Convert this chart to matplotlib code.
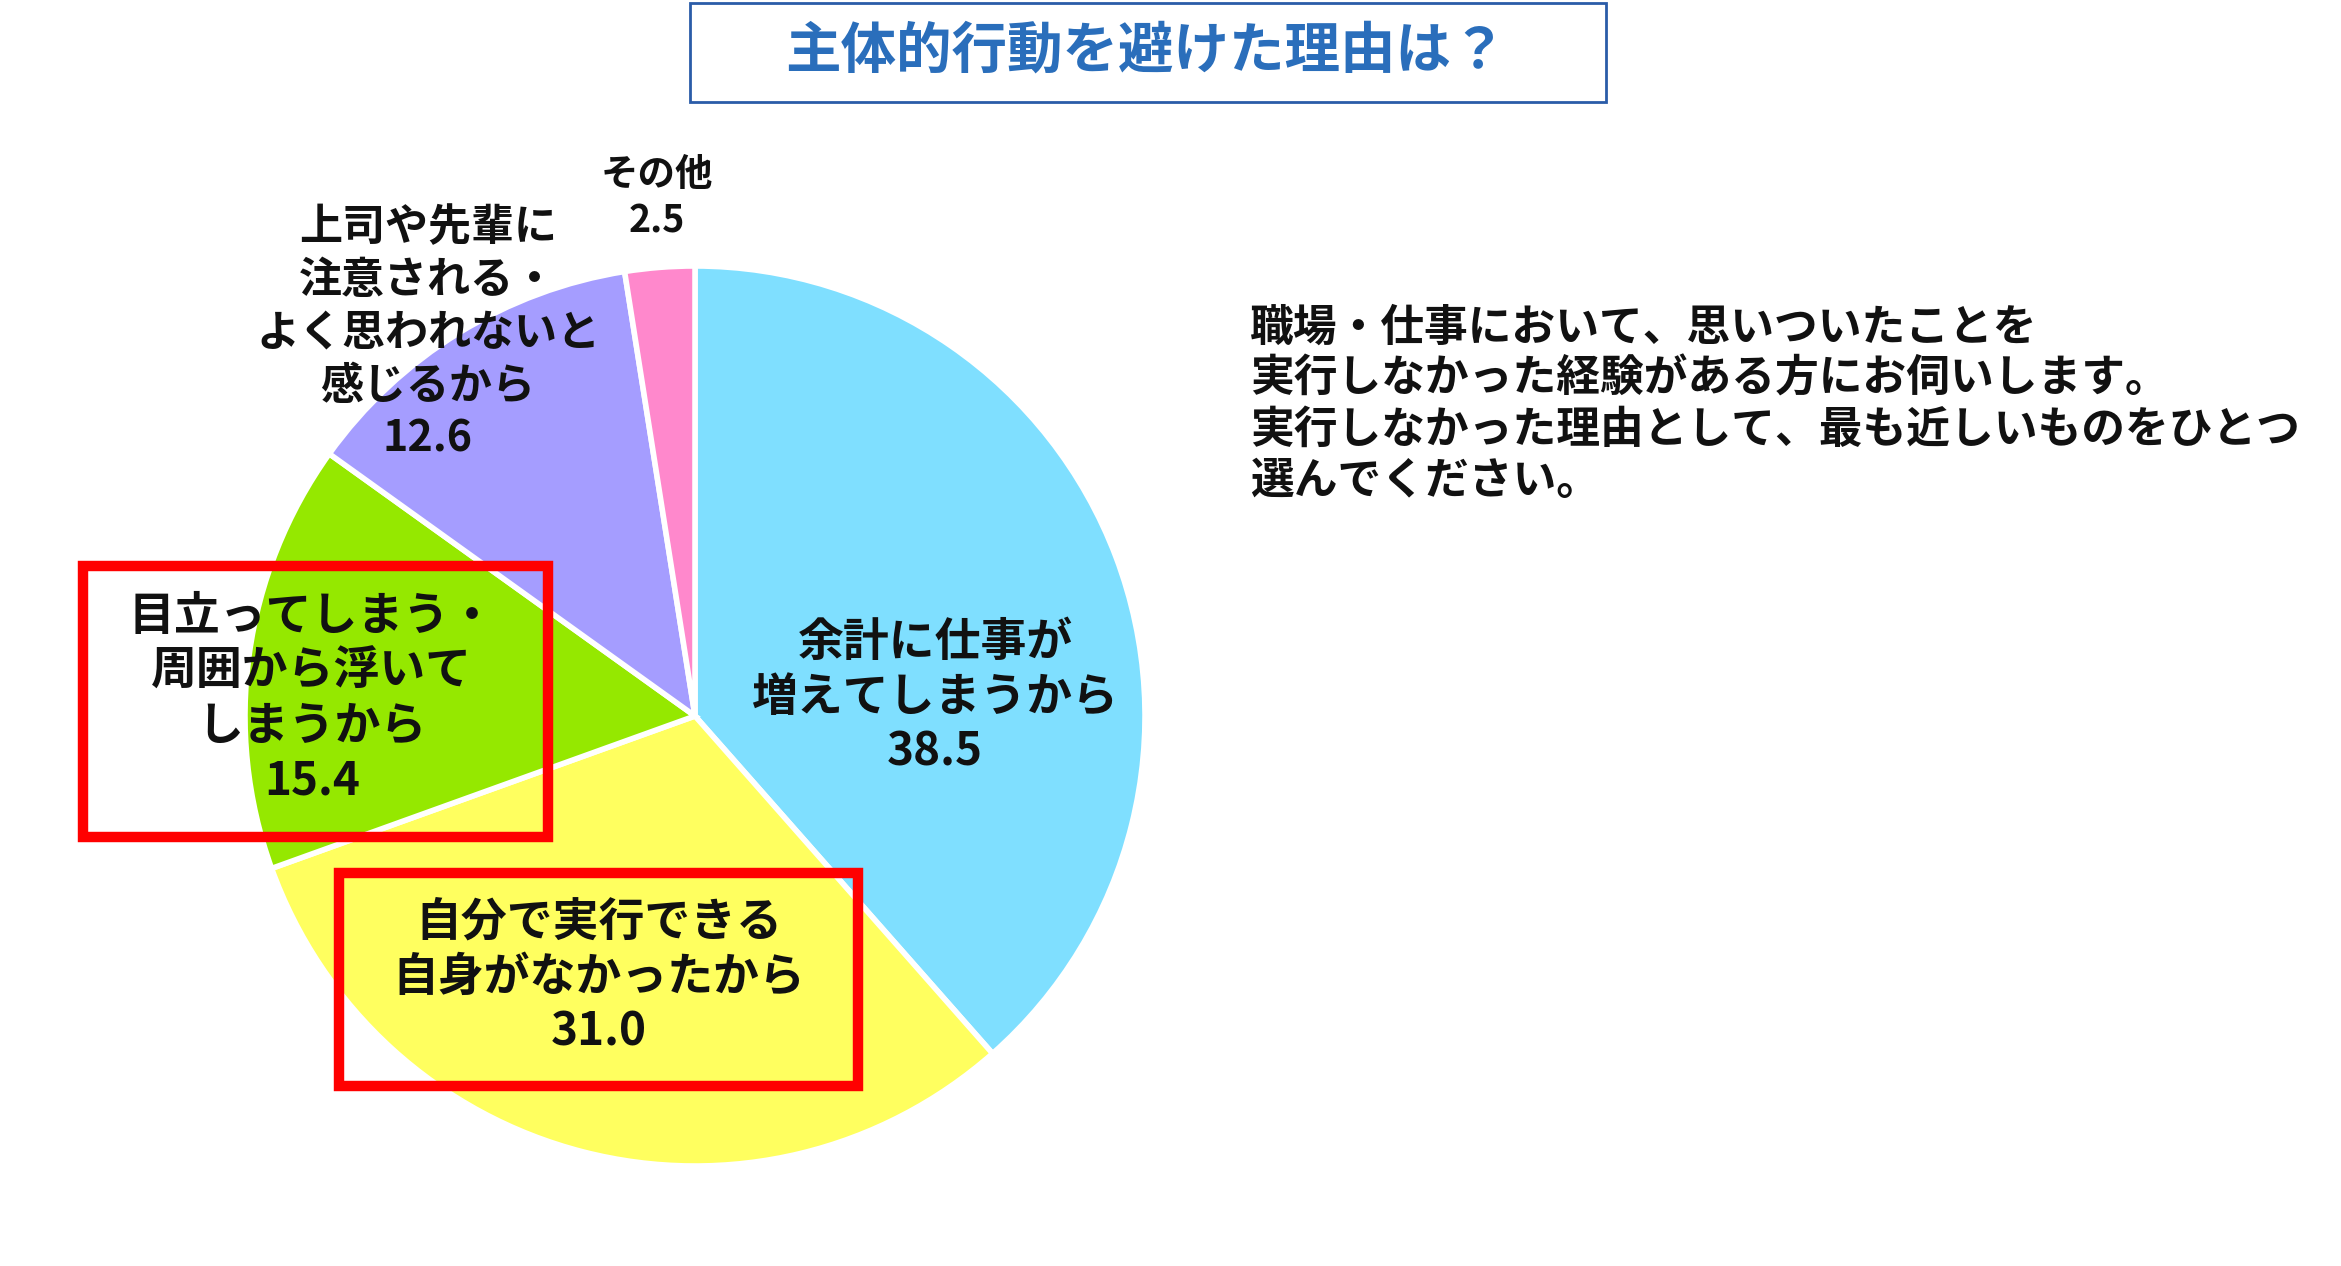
import matplotlib
matplotlib.use("Agg")
import matplotlib.pyplot as plt
from matplotlib.patches import Rectangle

plt.rcParams['font.family'] = ['Noto Sans CJK JP', 'DejaVu Sans']

categories = ["余計に仕事が\n増えてしまうから", "自分で実行できる\n自身がなかったから",
              "目立ってしまう・\n周囲から浮いて\nしまうから", "上司や先輩に\n注意される・\nよく思われないと\n感じるから", "その他"]
values = [38.5, 31.0, 15.4, 12.6, 2.5]
colors = ["#7FDFFF", "#FFFF5F", "#95E800", "#A59DFF", "#FF88CC"]
label_pos = [(935, 698), (599, 978), (312, 699), (428, 333), (657, 198)]
label_size = [33, 33, 33, 31, 27]

W, H = 2341, 1266
fig = plt.figure(figsize=(W/100, H/100), dpi=100)
ax = fig.add_axes([0, 0, 1, 1])
ax.pie(values, colors=colors, startangle=270, counterclock=True,
       center=(695, 716), radius=450, frame=True,
       wedgeprops=dict(edgecolor='white', linewidth=4))
ax.set_xlim(0, W); ax.set_ylim(H, 0); ax.set_aspect('equal'); ax.axis('off')

for c, v, (x, y), s in zip(categories, values, label_pos, label_size):
    ax.text(x, y, f"{c}\n{v:.1f}", ha='center', va='center', fontsize=s,
            fontweight='bold', linespacing=1.25, color='#111111')

ax.add_patch(Rectangle((83, 566), 465, 271, fill=False, edgecolor='#FF0000', linewidth=7.5))
ax.add_patch(Rectangle((339, 873), 519, 213, fill=False, edgecolor='#FF0000', linewidth=7.5))

ax.add_patch(Rectangle((690, 3), 916, 99, fill=False, edgecolor='#2A5CA8', linewidth=2))
ax.text(1146, 52, "主体的行動を避けた理由は？", ha='center', va='center', fontsize=40,
        fontweight='bold', color='#2A6EBB')

ax.text(1250, 404, "職場・仕事において、思いついたことを\n実行しなかった経験がある方にお伺いします。\n実行しなかった理由として、最も近しいものをひとつ\n選んでください。",
        ha='left', va='center', fontsize=31.5, fontweight='bold', linespacing=1.2, color='#111111')

fig.savefig("out.png", dpi=100)
